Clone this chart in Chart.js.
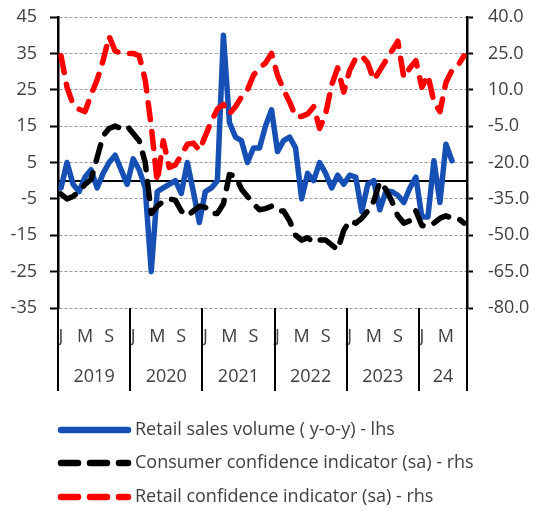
<!DOCTYPE html>
<html>
<head>
<meta charset="utf-8">
<script src="https://cdn.jsdelivr.net/npm/chart.js@4/dist/chart.umd.min.js"></script>
<style>
  html, body { margin: 0; padding: 0; background: #fff; }
  #wrap { width: 535px; height: 511px; }
</style>
</head>
<body>
<div id="wrap"><canvas id="chart" width="535" height="511"></canvas></div>
<script>
/* ---------- Data ---------- */
const years = ["2019", "2020", "2021", "2022", "2023", "24"];
const monthsPerYear = [12, 12, 12, 12, 12, 8];
const monthLetters = ["J", "", "", "", "M", "", "", "", "S", "", "", ""];

// Retail sales volume (y-o-y), lhs — Jan 2019 .. Jun 2024
const retailSales = [
  -2, 5, -1, -3, 1, 3, -2, 2, 5, 7, 3, -1,
  6, 3, -2, -25, -3, -2, -1, 0, -3.5, 5, -3, -11.5,
  -3, -2, 0, 40, 16, 12, 11, 5, 9, 9, 15, 19.5,
  8, 11, 12, 9, -5, 2, 0, 5, 2, -2, 1.5, -1,
  1.5, 1, -8.5, -1, 0, -8, -3, -3, -4, -6, -2, 1,
  -10, -10, 5.5, -6, 10, 5.5
];

// Consumer confidence indicator (sa), rhs — Jan 2019 .. Aug 2024
const consumerConf = [
  -33, -35, -34, -32, -29, -27, -18, -9, -6, -5, -6, -5,
  -8, -11, -20, -41, -38, -36, -35, -35.5, -40, -42, -40, -38,
  -38.5, -41, -41, -37, -25, -25.5, -31, -34, -37, -39.5, -39, -38,
  -40, -40, -44, -50, -52, -51, -53, -52, -52, -54, -56, -48,
  -44, -45, -43, -40, -36, -28, -31, -36, -42, -45, -44, -40,
  -46, -46.5, -45, -43, -42, -43, -43, -45
];

// Retail confidence indicator (sa), rhs — Jan 2019 .. Aug 2024
const retailConf = [
  24, 11, 4, 2, 1, 8, 14, 22, 32, 26, 25, 25,
  25, 24, 14, -5, -28, -11, -22, -21, -17, -12.5, -12, -15,
  -9, -3, 2, 4, 0, 3, 7, 10, 16, 19, 21, 25,
  16, 10, 5, -1, -1, 0, 3, -6, 0, 12, 19, 9,
  18, 23, 24, 21, 14, 18, 22, 26, 30, 15, 19, 22,
  11, 16, 5, 1, 13, 18, 20, 24
];

const leftTicks = { min: -35, max: 45, step: 10 };
const rightTicks = { min: -80, max: 40, step: 15 };

const seriesNames = [
  "Retail sales volume ( y-o-y) - lhs",
  "Consumer confidence indicator (sa) - rhs",
  "Retail confidence indicator (sa) - rhs"
];

/* ---------- Categories ---------- */
const categories = [];
years.forEach((yr, k) => {
  for (let m = 0; m < monthsPerYear[k]; m++) categories.push(yr + "-" + (m + 1));
});

/* ---------- Style ---------- */
const FONT = "'Open Sans', 'DejaVu Sans', sans-serif";
const TEXT = "#404040";
const BLUE = "#1650B4";
const RED = "#FF0000";
const BLACK = "#000000";
const LINE_W = 5.5;
const DASH = [17, 12];

/* ---------- Plugins ---------- */
const zeroLine = {
  id: "zeroLine",
  beforeDatasetsDraw(chart) {
    const { ctx, chartArea: a, scales: { y } } = chart;
    const py = Math.round(y.getPixelForValue(0));
    ctx.save();
    ctx.strokeStyle = "#000";
    ctx.lineWidth = 2;
    ctx.beginPath();
    ctx.moveTo(a.left, py);
    ctx.lineTo(a.right, py);
    ctx.stroke();
    ctx.restore();
  }
};

const yearAxis = {
  id: "yearAxis",
  afterDraw(chart) {
    const { ctx, chartArea: a, scales: { x } } = chart;
    const half = (x.getPixelForValue(1) - x.getPixelForValue(0)) / 2;
    const bottom = 391;
    ctx.save();
    ctx.strokeStyle = "#000";
    ctx.lineWidth = 2;
    ctx.fillStyle = TEXT;
    ctx.font = "18px " + FONT;
    ctx.textAlign = "center";
    ctx.textBaseline = "middle";

    // axis lines run down past the plot
    [a.left, a.right].forEach((px) => {
      ctx.beginPath();
      ctx.moveTo(px, a.bottom);
      ctx.lineTo(px, bottom);
      ctx.stroke();
    });

    let start = 0;
    years.forEach((yr, k) => {
      const n = monthsPerYear[k];
      const left = x.getPixelForValue(start) - half;
      const right = x.getPixelForValue(start + n - 1) + half;
      if (k > 0) {
        ctx.beginPath();
        ctx.moveTo(Math.round(left), a.bottom);
        ctx.lineTo(Math.round(left), bottom);
        ctx.stroke();
      }
      ctx.fillText(yr, (left + Math.min(right, a.right)) / 2, 377);
      start += n;
    });
    ctx.restore();
  }
};

const bottomLegend = {
  id: "bottomLegend",
  afterDraw(chart) {
    const { ctx } = chart;
    const rows = [
      { y: 430, color: BLUE, dash: [] },
      { y: 463, color: BLACK, dash: DASH },
      { y: 497, color: RED, dash: DASH }
    ];
    ctx.save();
    ctx.font = "18px " + FONT;
    ctx.fillStyle = TEXT;
    ctx.textAlign = "left";
    ctx.textBaseline = "middle";
    rows.forEach((r, i) => {
      ctx.strokeStyle = r.color;
      ctx.lineWidth = LINE_W + 1;
      ctx.lineCap = "round";
      ctx.setLineDash(r.dash);
      ctx.beginPath();
      ctx.moveTo(61, r.y);
      ctx.lineTo(128, r.y);
      ctx.stroke();
      ctx.setLineDash([]);
      ctx.fillText(seriesNames[i], 135, r.y);
    });
    ctx.restore();
  }
};

/* ---------- Chart ---------- */
function lineStyle(color, dash) {
  return {
    borderColor: color,
    backgroundColor: color,
    borderWidth: LINE_W,
    borderDash: dash,
    borderCapStyle: "round",
    borderJoinStyle: "round",
    pointRadius: 0,
    tension: 0,
    fill: false
  };
}

// fixed side widths, no extra label overflow at top
function fixWidth(w) {
  return (s) => {
    s.width = w;
    s.paddingTop = 0;
    s.paddingBottom = 0;
  };
}

const ctx = document.getElementById("chart").getContext("2d");
new Chart(ctx, {
  type: "line",
  data: {
    labels: categories,
    datasets: [
      { label: seriesNames[0], data: retailSales, yAxisID: "y", order: 3, ...lineStyle(BLUE, []) },
      { label: seriesNames[1], data: consumerConf, yAxisID: "y2", order: 2, ...lineStyle(BLACK, DASH) },
      { label: seriesNames[2], data: retailConf, yAxisID: "y2", order: 1, ...lineStyle(RED, DASH) }
    ]
  },
  options: {
    responsive: false,
    animation: false,
    layout: { padding: { top: 17, left: 0, right: 0, bottom: 0 } },
    plugins: { legend: { display: false }, tooltip: { enabled: false } },
    scales: {
      x: {
        type: "category",
        offset: true,
        grid: { display: false, drawTicks: false },
        border: { display: false },
        ticks: {
          autoSkip: false,
          maxRotation: 0,
          minRotation: 0,
          padding: 18,
          color: TEXT,
          font: { family: FONT, size: 18 },
          callback: (v, i) => monthLetters[i % 12]
        },
        afterFit: (s) => { s.height = 203; }
      },
      y: {
        position: "left",
        min: leftTicks.min,
        max: leftTicks.max,
        ticks: {
          stepSize: leftTicks.step,
          padding: 13,
          color: TEXT,
          font: { family: FONT, size: 18 }
        },
        grid: {
          color: "#9a9a9a",
          lineWidth: 1,
          tickLength: 8,
          tickColor: "#000",
          tickWidth: 2,
          tickBorderDash: []
        },
        border: { display: true, color: "#000", width: 2.5, dash: [3, 2] },
        afterFit: fixWidth(58)
      },
      y2: {
        position: "right",
        min: rightTicks.min,
        max: rightTicks.max,
        ticks: {
          stepSize: rightTicks.step,
          padding: 15,
          color: TEXT,
          font: { family: FONT, size: 18 },
          callback: (v) => Number(v).toFixed(1)
        },
        grid: {
          drawOnChartArea: false,
          tickLength: 6,
          tickColor: "#000",
          tickWidth: 2
        },
        border: { display: true, color: "#000", width: 2.5 },
        afterFit: fixWidth(68)
      }
    }
  },
  plugins: [zeroLine, yearAxis, bottomLegend]
});
</script>
</body>
</html>
